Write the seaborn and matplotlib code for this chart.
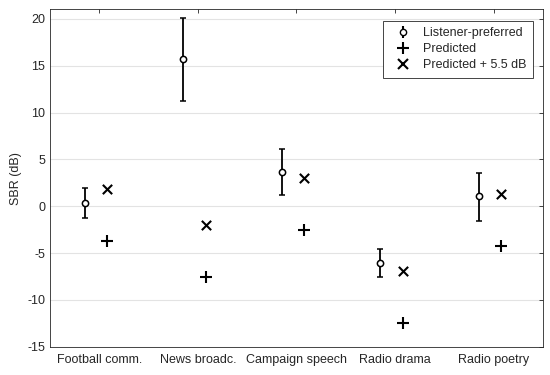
import numpy as np
import pandas as pd
import seaborn as sns
import matplotlib
matplotlib.use("Agg")
import matplotlib.pyplot as plt
from matplotlib.lines import Line2D

categories = ["Football comm.", "News broadc.", "Campaign speech", "Radio drama", "Radio poetry"]
preferred = [0.4, 15.7, 3.7, -6.0, 1.1]
pref_low = [-1.2, 11.2, 1.2, -7.5, -1.6]
pref_high = [1.9, 20.1, 6.1, -4.6, 3.6]
predicted = [-3.7, -7.5, -2.5, -12.4, -4.2]
predicted_plus = [1.8, -2.0, 3.0, -6.9, 1.3]

sns.set_style("white")
plt.rcParams["font.family"] = ["Liberation Sans", "DejaVu Sans"]
plt.rcParams["axes.unicode_minus"] = False

pos = np.arange(1, len(categories) + 1)
df = pd.DataFrame({"pos": pos, "pref": preferred, "lo": pref_low, "hi": pref_high,
                   "pred": predicted, "plus": predicted_plus})

fig = plt.figure(figsize=(5.5, 3.75), dpi=100)
ax = fig.add_axes([0.091, 0.075, 0.896, 0.9])

yerr = np.array([df["pref"] - df["lo"], df["hi"] - df["pref"]])
ax.errorbar(df["pos"] - 0.15, df["pref"], yerr=yerr, fmt="o", color="black",
            mfc="white", mec="black", ms=4.5, mew=1.1, elinewidth=1.3,
            capsize=2.5, capthick=1.3, zorder=3)
sns.scatterplot(x=df["pos"] + 0.08, y=df["pred"], marker="+", s=70, color="black",
                linewidth=1.5, ax=ax, zorder=3)
sns.scatterplot(x=df["pos"] + 0.08, y=df["plus"], marker="x", s=45, color="black",
                linewidth=1.5, ax=ax, zorder=3)

ax.set_xlim(0.5, 5.5)
ax.set_ylim(-15, 21)
ax.set_xticks(pos)
ax.set_xticklabels(categories)
ax.set_yticks(np.arange(-15, 21, 5))
ax.set_xlabel("")
ax.set_ylabel("SBR (dB)", fontsize=9, color="#262626")
ax.yaxis.grid(True, color="#e3e3e3", linewidth=0.8)
ax.set_axisbelow(True)
ax.tick_params(axis="both", direction="in", top=True, right=True, length=3,
               labelsize=9, colors="#262626", width=0.6)
ax.tick_params(axis="x", pad=5)
for s in ax.spines.values():
    s.set_color("#262626")
    s.set_linewidth(0.6)

h0 = ax.errorbar([], [], yerr=[], fmt="o", color="black", mfc="white", mec="black",
                 ms=4.5, capsize=2.5)
h1 = Line2D([], [], marker="+", color="black", ms=8, mew=1.5, lw=0)
h2 = Line2D([], [], marker="x", color="black", ms=6.5, mew=1.5, lw=0)
leg = ax.legend([h0, h1, h2],
                ["Listener-preferred", "Predicted", "Predicted + 5.5 dB"],
                loc="upper right", bbox_to_anchor=(0.98, 0.967), borderaxespad=0,
                fontsize=9, frameon=True, fancybox=False, edgecolor="#262626",
                framealpha=1, handlelength=2.0, handletextpad=0.6, borderpad=0.55,
                labelspacing=0.3)
leg.get_frame().set_linewidth(0.6)

fig.savefig("out.png", dpi=100)
